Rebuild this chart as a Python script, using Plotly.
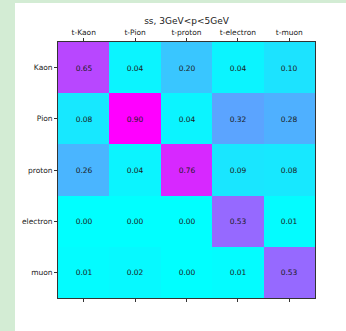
import plotly.graph_objects as go

# Confusion matrix: true particle (rows) vs tagged particle (columns)
true_labels = ["Kaon", "Pion", "proton", "electron", "muon"]
tag_labels = ["t-Kaon", "t-Pion", "t-proton", "t-electron", "t-muon"]

row_kaon = [0.65, 0.04, 0.20, 0.04, 0.10]
row_pion = [0.08, 0.90, 0.04, 0.32, 0.28]
row_proton = [0.26, 0.04, 0.76, 0.09, 0.08]
row_electron = [0.00, 0.00, 0.00, 0.53, 0.01]
row_muon = [0.01, 0.02, 0.00, 0.01, 0.53]

matrix = [row_kaon, row_pion, row_proton, row_electron, row_muon]
zmax = max(max(r) for r in matrix)

W, H = 346, 331
L, R, T, B = 58, 31, 42, 33
pw, ph = W - L - R, H - T - B

font = "DejaVu Sans, Liberation Sans, sans-serif"

fig = go.Figure()
fig.add_trace(go.Heatmap(
    z=matrix,
    x=tag_labels,
    y=true_labels,
    zmin=0, zmax=zmax,
    colorscale=[[0, "rgb(0,255,255)"], [1, "rgb(255,0,255)"]],
    showscale=False,
    texttemplate="%{z:.2f}",
    textfont=dict(family=font, size=7.5, color="#1a1a1a"),
    hoverinfo="skip",
    xgap=0, ygap=0,
))
# carrier trace for the unlabeled tick marks along the bottom edge
fig.add_trace(go.Scatter(x=tag_labels, y=[true_labels[0]] * 5, xaxis="x2",
                         mode="markers", marker=dict(opacity=0), hoverinfo="skip",
                         showlegend=False))

fig.update_layout(
    width=W, height=H,
    margin=dict(l=L, r=R, t=T, b=B),
    paper_bgcolor="#d3ecd4",
    plot_bgcolor="white",
    showlegend=False,
    font=dict(family=font, size=7.5, color="#222"),
    title=dict(text="ss, 3GeV<p<5GeV", x=(L + pw / 2) / W, xanchor="center",
               y=1 - 21 / H, yanchor="middle",
               font=dict(family=font, size=9, color="#222")),
    xaxis=dict(side="top", type="category", categoryorder="array", categoryarray=tag_labels,
               ticks="outside", ticklen=3, tickwidth=0.8, tickcolor="#333",
               showgrid=False, zeroline=False, showline=True, linecolor="#333", linewidth=0.8,
               mirror=True, tickfont=dict(size=7.5), range=[-0.5, 4.5], constrain="domain"),
    xaxis2=dict(overlaying="x", side="bottom", type="category", categoryorder="array",
                categoryarray=tag_labels, ticks="outside", ticklen=3, tickwidth=0.8,
                tickcolor="#333", showticklabels=False, showgrid=False, zeroline=False,
                range=[-0.5, 4.5], showline=False),
    yaxis=dict(type="category", categoryorder="array", categoryarray=true_labels,
               autorange="reversed", ticks="outside", ticklen=3, tickwidth=0.8,
               tickcolor="#333", showgrid=False, zeroline=False, showline=True,
               linecolor="#333", linewidth=0.8, mirror=True, tickfont=dict(size=7.5)),
    shapes=[dict(type="rect", xref="paper", yref="paper", layer="below",
                 x0=(15 - L) / pw, x1=(W + 5 - L) / pw,
                 y0=-(H + 5 - (H - B)) / ph, y1=((H - B) - 3) / ph,
                 fillcolor="white", line=dict(width=0))],
)

fig.write_html("out.html")
